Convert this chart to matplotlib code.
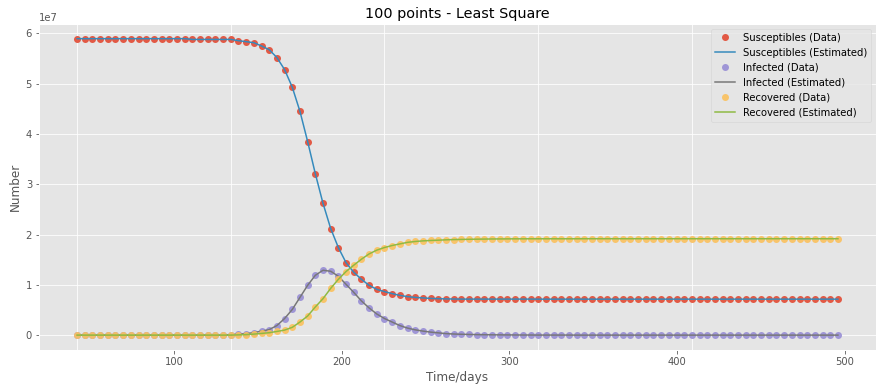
import matplotlib
matplotlib.use("Agg")
import matplotlib.pyplot as plt
import numpy as np

# time grid (days), 100 evenly spaced samples
days = np.linspace(42, 496, 100)

# values in millions
susceptibles = [
    58.95, 58.95, 58.95, 58.95, 58.95, 58.95, 58.95, 58.95, 58.95, 58.95,
    58.95, 58.95, 58.95, 58.95, 58.95, 58.8, 58.8, 58.8, 58.8, 58.8,
    58.8, 58.55, 58.35, 58.15, 57.5, 56.75, 55.2, 52.8, 49.3, 44.5,
    38.5, 32.1, 26.2, 21.2, 17.4, 14.4, 12.5, 11.1, 9.9, 9.1,
    8.65, 8.25, 7.9, 7.65, 7.5, 7.4, 7.3, 7.25, 7.2, 7.18,
    7.16, 7.16, 7.16, 7.16, 7.16, 7.16, 7.16, 7.16, 7.16, 7.16,
    7.15, 7.15, 7.15, 7.15, 7.15, 7.15, 7.15, 7.15, 7.15, 7.15,
    7.15, 7.15, 7.15, 7.15, 7.15, 7.15, 7.15, 7.15, 7.15, 7.15,
    7.15, 7.15, 7.15, 7.15, 7.15, 7.15, 7.15, 7.15, 7.15, 7.15,
    7.15, 7.15, 7.15, 7.15, 7.15, 7.15, 7.15, 7.15, 7.15, 7.15,
]
infected = [
    0, 0, 0, 0, 0, 0, 0, 0, 0, 0,
    0, 0, 0, 0, 0, 0, 0, 0, 0, 0,
    0.1, 0.2, 0.3, 0.5, 0.8, 1.1, 1.9, 3.3, 5.1, 7.5,
    9.9, 11.9, 12.9, 12.7, 11.7, 10.1, 8.5, 6.8, 5.4, 4.2,
    3.3, 2.6, 1.9, 1.4, 1.05, 0.8, 0.6, 0.45, 0.3, 0.22,
    0.17, 0.13, 0.1, 0.08, 0.06, 0.05, 0.04, 0.03, 0.02, 0.02,
    0.01, 0.01, 0.01, 0.01, 0.01, 0, 0, 0, 0, 0,
    0, 0, 0, 0, 0, 0, 0, 0, 0, 0,
    0, 0, 0, 0, 0, 0, 0, 0, 0, 0,
    0, 0, 0, 0, 0, 0, 0, 0, 0, 0,
]
recovered = [
    0, 0, 0, 0, 0, 0, 0, 0, 0, 0,
    0, 0, 0, 0, 0, 0, 0, 0, 0, 0,
    0, 0.05, 0.1, 0.2, 0.34, 0.48, 0.73, 1.0, 1.55, 2.6,
    3.8, 5.6, 7.25, 9.3, 11.1, 12.65, 13.9, 15.1, 16.15, 16.9,
    17.42, 17.82, 18.14, 18.45, 18.62, 18.74, 18.82, 18.88, 18.95, 19.0,
    19.03, 19.06, 19.08, 19.1, 19.12, 19.13, 19.14, 19.15, 19.15, 19.16,
    19.16, 19.16, 19.16, 19.16, 19.16, 19.16, 19.17, 19.17, 19.17, 19.17,
    19.17, 19.17, 19.17, 19.17, 19.17, 19.17, 19.17, 19.17, 19.17, 19.17,
    19.17, 19.17, 19.17, 19.17, 19.17, 19.17, 19.17, 19.17, 19.17, 19.17,
    19.17, 19.17, 19.17, 19.17, 19.17, 19.17, 19.17, 19.17, 19.17, 19.17,
]

S = np.array(susceptibles) * 1e6
I = np.array(infected) * 1e6
R = np.array(recovered) * 1e6

plt.style.use('ggplot')
dpi = 72
fig = plt.figure(figsize=(881 / dpi, 391 / dpi), dpi=dpi)
ax = fig.add_axes([0.0443, 0.105, 0.95, 0.834])

ms = 7
lw = 1.5
ax.plot(days, S, 'o', ms=ms, mew=0, alpha=0.9, label='Susceptibles (Data)')
ax.plot(days, S, '-', lw=lw, label='Susceptibles (Estimated)')
ax.plot(days, I, 'o', ms=ms, mew=0, alpha=0.9, label='Infected (Data)')
ax.plot(days, I, '-', lw=lw, label='Infected (Estimated)')
ax.plot(days, R, 'o', ms=ms, mew=0, alpha=0.9, label='Recovered (Data)')
ax.plot(days, R, '-', lw=lw, label='Recovered (Estimated)')

ax.set_title('100 points - Least Square')
ax.set_xlabel('Time/days')
ax.set_ylabel('Number')

# vertical grid lines sit on every 20th sample, not on the labelled ticks
ax.set_xticks([100, 200, 300, 400, 500])
ax.set_xticks(days[::20], minor=True)
ax.grid(False, axis='x', which='major')
ax.grid(True, axis='x', which='minor')
ax.tick_params(axis='x', which='minor', length=0)

ax.legend(loc='upper right')

fig.savefig('out.png', dpi=dpi)
